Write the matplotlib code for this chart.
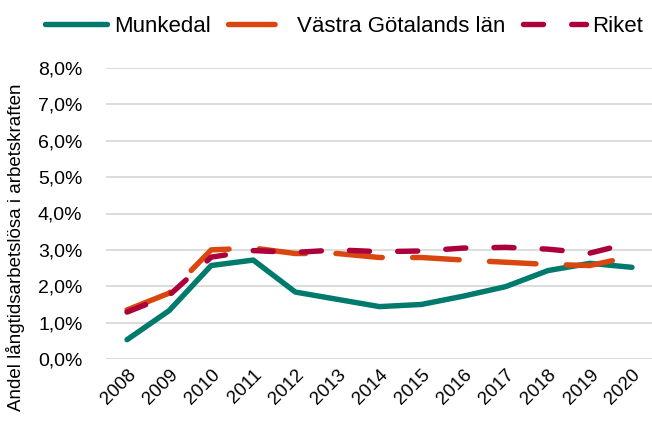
import matplotlib
matplotlib.use("Agg")
import matplotlib.pyplot as plt
from matplotlib.ticker import FuncFormatter

plt.rcParams['font.family'] = ['Liberation Sans', 'DejaVu Sans']

years = ["2008", "2009", "2010", "2011", "2012", "2013", "2014",
         "2015", "2016", "2017", "2018", "2019", "2020"]
munkedal = [0.53, 1.33, 2.57, 2.72, 1.84, 1.64, 1.44, 1.50, 1.73, 1.99, 2.43, 2.63, 2.52]
vastra = [1.35, 1.81, 3.00, 3.05, 2.90, 2.90, 2.79, 2.79, 2.72, 2.66, 2.60, 2.57, 2.82]
riket = [1.29, 1.75, 2.80, 2.98, 2.93, 3.00, 2.95, 2.97, 3.05, 3.07, 3.02, 2.91, 3.20]
series_names = ["Munkedal", "Västra Götalands län", "Riket"]
yticks = [0, 1, 2, 3, 4, 5, 6, 7, 8]
ylabel = "Andel långtidsarbetslösa i arbetskraften"

fig = plt.figure(figsize=(6.52, 4.21), dpi=100)
ax = fig.add_axes([106/652, 1 - 359/421, 547/652, (359 - 68)/421])

x = list(range(len(years)))
lw = 3.9
ax.plot(x, munkedal, color="#007A6C", lw=lw, solid_capstyle="round", solid_joinstyle="round",
        label=series_names[0], zorder=3)
ax.plot(x, vastra, color="#D9460F", lw=lw, dashes=(8.6, 5.6), dash_capstyle="round",
        label=series_names[1], zorder=4)
ax.plot(x, riket, color="#AB003C", lw=lw, dashes=(3.7, 5.2), dash_capstyle="round",
        label=series_names[2], zorder=5)

ax.set_xlim(-0.5, len(years) - 0.5)
ax.set_ylim(0, 8)
ax.set_yticks(yticks)
ax.yaxis.set_major_formatter(FuncFormatter(lambda v, p: f"{v:.1f}%".replace(".", ",")))
ax.set_xticks(x)
ax.set_xticklabels(years, rotation=45, ha="right", rotation_mode="anchor", fontsize=13.5)
ax.tick_params(axis="y", labelsize=14, length=0, pad=17)
ax.tick_params(axis="x", length=0, pad=5)
ax.grid(axis="y", color="#D9D9D9", lw=1.3)
ax.set_axisbelow(True)
for s in ax.spines.values():
    s.set_visible(False)
ax.set_ylabel(ylabel, fontsize=13.5)
ax.yaxis.set_label_coords(-0.148, 0.385)

leg = fig.legend(loc="center left", bbox_to_anchor=(45/652, 1 - 26/421), ncol=3, frameon=False,
                 fontsize=16, handlelength=2.8, columnspacing=0.8, handletextpad=0.3,
                 borderaxespad=0, borderpad=0)

fig.savefig("out.png", dpi=100)
